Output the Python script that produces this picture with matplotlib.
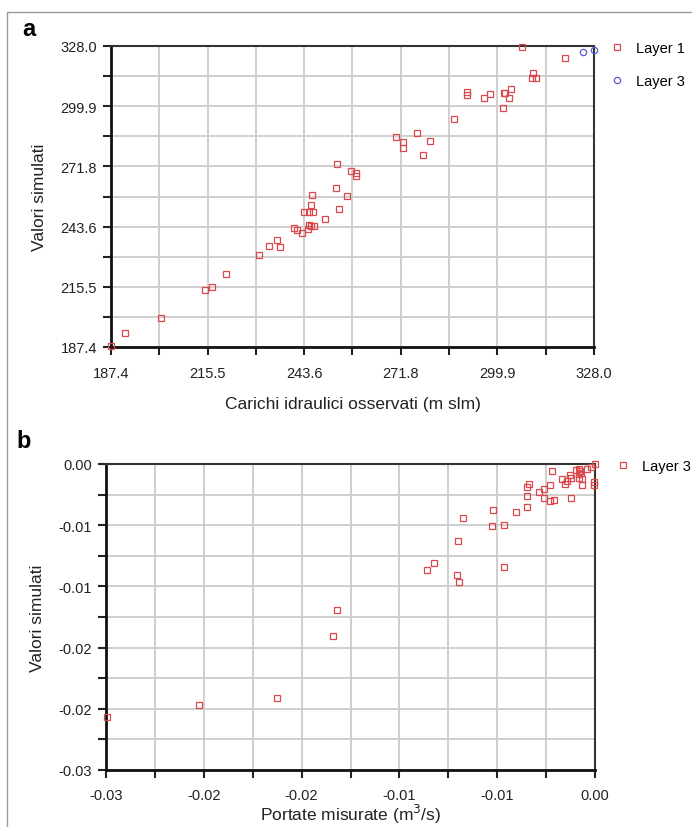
import matplotlib
matplotlib.use("Agg")
import matplotlib.pyplot as plt
from matplotlib.patches import Rectangle

plt.rcParams["font.family"] = ["Liberation Sans", "DejaVu Sans"]

# =========================
# DATA - panel a (heads, m slm)
# =========================
a_layer1_obs = [
    187.4, 191.6, 201.9, 214.9, 216.8, 220.9, 230.6, 233.5, 235.6, 236.7,
    240.8, 241.5, 243.1, 243.7, 245.0, 246.3, 245.6, 246.0, 244.8, 245.1,
    245.7, 246.5, 249.7, 253.9, 252.9, 256.2, 253.3, 257.3, 258.7, 258.6,
    270.3, 272.4, 272.5, 276.6, 280.4, 278.3, 287.2, 291.0, 291.0, 296.1,
    297.8, 301.4, 301.9, 302.1, 303.9, 303.3, 307.1, 310.3, 309.9, 311.0,
    319.5,
]
a_layer1_sim = [
    188.0, 193.8, 201.1, 213.9, 215.3, 221.6, 230.4, 234.4, 237.4, 234.3,
    243.0, 242.2, 240.7, 250.3, 250.3, 250.3, 253.6, 258.4, 242.5, 244.4,
    244.1, 244.1, 247.2, 251.9, 261.5, 258.1, 272.7, 269.6, 268.9, 267.5,
    285.6, 283.3, 280.4, 287.2, 283.6, 277.2, 293.8, 306.3, 304.9, 303.6,
    305.8, 299.2, 306.2, 306.0, 308.0, 303.6, 327.4, 315.5, 313.2, 313.2,
    322.3,
]
a_layer3_obs = [324.9, 327.9]
a_layer3_sim = [325.1, 326.0]

a_ticks = [187.4, 215.52, 243.64, 271.76, 299.88, 328.0]
a_minor = [201.46, 229.58, 257.70, 285.82, 313.94]
a_ticklabels = ["187.4", "215.5", "243.6", "271.8", "299.9", "328.0"]

# =========================
# DATA - panel b (discharges, m3/s)
# =========================
b_obs = [
    -0.00218, -0.00336, -0.00349, -0.00288, -0.00261, -0.00232, -0.00349, -0.00261,
    -0.00232, -0.00211, -0.00349, -0.00402, -0.00520, -0.00675, -0.00525, -0.00465,
    -0.00699, -0.00822, -0.00860, -0.00706, -0.00697, -0.00464, -0.00169, -0.00152,
    -0.00145, -0.00124, -0.00128, -0.00097, -0.00082, -0.00082, -0.00070, -0.00066,
    -0.00083, -0.00066, -0.00121, -0.00042, -0.00022, 0.00000, -0.00003, -0.00003,
    -0.00077, -0.01319, -0.01341, -0.01627, -0.02026, -0.02495,
]
b_sim = [
    -0.00060, -0.00166, -0.00188, -0.00231, -0.00202, -0.00169, -0.00264, -0.00280,
    -0.00302, -0.00294, -0.00354, -0.00390, -0.00373, -0.00444, -0.00504, -0.00496,
    -0.00632, -0.00806, -0.00866, -0.00907, -0.00962, -0.00841, -0.00125, -0.00166,
    -0.00136, -0.00117, -0.00090, -0.00047, -0.00041, -0.00082, -0.00074, -0.00120,
    -0.00117, -0.00172, -0.00278, -0.00041, -0.00022, 0.00000, -0.00150, -0.00172,
    -0.00055, -0.01193, -0.01403, -0.01912, -0.01967, -0.02065,
]

b_ticks = [-0.025, -0.020, -0.015, -0.010, -0.005, 0.0]
b_minor = [-0.0225, -0.0175, -0.0125, -0.0075, -0.0025]
b_xticklabels = ["-0.03", "-0.02", "-0.02", "-0.01", "-0.01", "0.00"]
b_yticklabels = ["-0.03", "-0.02", "-0.02", "-0.01", "-0.01", "0.00"]

RED = "#d9484c"
BLUE = "#5a5ad6"
GRID = "#cccccc"
TXT = "#222222"

fig = plt.figure(figsize=(6.92, 8.28), dpi=100)

# outer frame
fig.patches.append(Rectangle((7 / 692, -0.01), 1.0, 1 - 13 / 828 + 0.01,
                             transform=fig.transFigure, fill=False,
                             edgecolor="#999999", linewidth=1.0))


def style_axes(ax, ticks, minor, xlabels, ylabels, xpad):
    ax.set_xticks(ticks)
    ax.set_xticks(minor, minor=True)
    ax.set_yticks(ticks)
    ax.set_yticks(minor, minor=True)
    ax.set_xticklabels(xlabels)
    ax.set_yticklabels(ylabels)
    ax.set_xlim(ticks[0], ticks[-1])
    ax.set_ylim(ticks[0], ticks[-1])
    ax.grid(True, which="both", color=GRID, linewidth=1.3, zorder=0)
    ax.set_axisbelow(True)
    ax.tick_params(which="both", direction="out", length=6, width=1.5,
                   color="#222222", labelsize=10.5, labelcolor=TXT, pad=4)
    ax.tick_params(axis="x", which="both", pad=xpad)
    for side in ["left", "bottom"]:
        ax.spines[side].set_linewidth(2.0)
        ax.spines[side].set_color("#111111")
    for side in ["top", "right"]:
        ax.spines[side].set_linewidth(1.5)
        ax.spines[side].set_color("#333333")


# =========================
# PANEL A
# =========================
ax1 = fig.add_axes([111 / 692, 1 - 348 / 828, 483 / 692, 301 / 828])
ax1.plot(a_layer1_obs, a_layer1_sim, linestyle="none", marker="s", markersize=4.2,
         markerfacecolor="none", markeredgecolor=RED, markeredgewidth=0.9,
         label="Layer 1", clip_on=False, zorder=3)
ax1.plot(a_layer3_obs, a_layer3_sim, linestyle="none", marker="o", markersize=4.5,
         markerfacecolor="none", markeredgecolor=BLUE, markeredgewidth=0.9,
         label="Layer 3", clip_on=False, zorder=3)
style_axes(ax1, a_ticks, a_minor, a_ticklabels, a_ticklabels, 8)
ax1.set_xlabel("Carichi idraulici osservati (m slm)", fontsize=12.5, color=TXT, labelpad=11)
ax1.set_ylabel("Valori simulati", fontsize=12.5, color=TXT, labelpad=10)
ax1.legend(loc="upper left", bbox_to_anchor=(1.02, 1.035), frameon=False,
           fontsize=10.5, labelspacing=1.3, handlelength=1.0, handletextpad=0.8,
           borderaxespad=0)

# =========================
# PANEL B
# =========================
ax2 = fig.add_axes([106 / 692, 1 - 771 / 828, 489 / 692, 306 / 828])
ax2.plot(b_obs, b_sim, linestyle="none", marker="s", markersize=4.2,
         markerfacecolor="none", markeredgecolor=RED, markeredgewidth=0.9,
         label="Layer 3", clip_on=False, zorder=3)
style_axes(ax2, b_ticks, b_minor, b_xticklabels, b_yticklabels, 7)
ax2.set_xlabel("Portate misurate (m$^3$/s)", fontsize=12.5, color=TXT, labelpad=0)
ax2.set_ylabel("Valori simulati", fontsize=12.5, color=TXT, labelpad=10)
ax2.legend(loc="upper left", bbox_to_anchor=(1.03, 1.035), frameon=False,
           fontsize=10.5, handlelength=1.0, handletextpad=0.8, borderaxespad=0)

# panel letters
fig.text(22 / 692, 1 - 30 / 828, "a", fontsize=17, fontweight="bold", va="center")
fig.text(16 / 692, 1 - 442 / 828, "b", fontsize=17, fontweight="bold", va="center")

fig.savefig("out.png", dpi=100)
